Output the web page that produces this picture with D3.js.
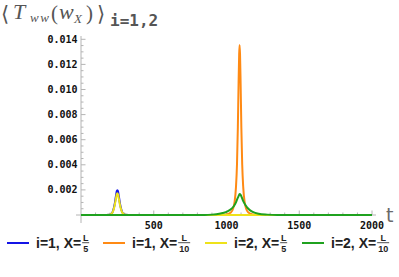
<!DOCTYPE html>
<html><head><meta charset="utf-8">
<script src="https://cdn.jsdelivr.net/npm/d3@7"></script>
<style>body{margin:0;background:#fff}svg{display:block}</style>
</head><body>
<svg id="chart" width="399" height="277"></svg>
<script>
// ---- data ----
const seriesNames = ["i=1, X=L/5", "i=1, X=L/10", "i=2, X=L/5", "i=2, X=L/10"];
const legendDenoms = ["5", "10", "5", "10"];
const seriesColors = ["#1414e6", "#ff8a14", "#eee21a", "#1fa21f"];

const blueT   = [0, 150, 195, 210, 222, 232, 240, 246, 250, 254, 260, 268, 278, 290, 305, 350, 2000];
const blueV   = [0, 0, 0.00003, 0.0001, 0.0004, 0.0009, 0.0015, 0.0019, 0.00197, 0.0019, 0.0015, 0.0009, 0.0004, 0.0001, 0.00003, 0, 0];

const orangeT = [0, 950, 1000, 1030, 1045, 1055, 1065, 1072, 1078, 1083, 1087, 1090, 1093, 1097, 1102, 1108, 1115, 1125, 1135, 1150, 1180, 1230, 2000];
const orangeV = [0, 0, 0.00005, 0.0002, 0.0005, 0.0010, 0.0022, 0.0040, 0.0070, 0.0105, 0.0128, 0.01355, 0.0128, 0.0105, 0.0070, 0.0040, 0.0022, 0.0010, 0.0005, 0.0002, 0.00005, 0, 0];

const yellowT = [0, 150, 195, 210, 222, 232, 240, 246, 250, 254, 260, 268, 278, 290, 305, 350, 2000];
const yellowV = [0, 0, 0.00003, 0.0001, 0.00035, 0.0008, 0.0013, 0.00165, 0.00173, 0.00165, 0.0013, 0.0008, 0.00035, 0.0001, 0.00003, 0, 0];

const greenT  = [0, 850, 900, 950, 1000, 1030, 1050, 1065, 1075, 1083, 1090, 1097, 1105, 1115, 1130, 1150, 1180, 1220, 1280, 1350, 2000];
const greenV  = [0, 0, 0.00003, 0.0001, 0.00025, 0.00045, 0.0007, 0.0010, 0.0013, 0.0015, 0.00167, 0.0016, 0.0014, 0.0011, 0.0008, 0.0005, 0.00025, 0.0001, 0.00003, 0, 0];

const xMajorTicks = [500, 1000, 1500, 2000];
const yMajorTicks = [0.002, 0.004, 0.006, 0.008, 0.010, 0.012, 0.014];
const yTickLabels = ["0.002", "0.004", "0.006", "0.008", "0.010", "0.012", "0.014"];

const seriesT = [blueT, orangeT, yellowT, greenT];
const seriesV = [blueV, orangeV, yellowV, greenV];

// ---- layout ----
const svg = d3.select("#chart");
const x = d3.scaleLinear().domain([0, 2000]).range([81, 372]);
const y = d3.scaleLinear().domain([0, 0.014]).range([215, 39.3]);
const axisColor = "#b4b4b4";

svg.append("line").attr("x1", 76).attr("x2", 376).attr("y1", y(0)).attr("y2", y(0))
  .attr("stroke", axisColor).attr("stroke-width", 1);
svg.append("line").attr("x1", x(0)).attr("x2", x(0)).attr("y1", 36).attr("y2", 223)
  .attr("stroke", axisColor).attr("stroke-width", 1);

const xMinor = d3.range(100, 2001, 100).filter(v => !xMajorTicks.includes(v));
svg.selectAll(".xmin").data(xMinor).join("line")
  .attr("x1", d => x(d)).attr("x2", d => x(d)).attr("y1", y(0)).attr("y2", y(0) - 2.5)
  .attr("stroke", axisColor);
svg.selectAll(".xmaj").data(xMajorTicks).join("line")
  .attr("x1", d => x(d)).attr("x2", d => x(d)).attr("y1", y(0)).attr("y2", y(0) - 4.5)
  .attr("stroke", axisColor);
svg.selectAll(".xlab").data(xMajorTicks).join("text")
  .attr("x", d => x(d)).attr("y", 229)
  .attr("text-anchor", "middle")
  .attr("font-family", "DejaVu Sans Mono").attr("font-weight", "bold").attr("font-size", 10)
  .attr("fill", "#111").text(d => d);

const yMinor = d3.range(1, 29).map(i => i * 0.0005).filter(v => Math.abs((v / 0.002) - Math.round(v / 0.002)) > 1e-6);
svg.selectAll(".ymin").data(yMinor).join("line")
  .attr("x1", x(0)).attr("x2", x(0) + 2.5).attr("y1", d => y(d)).attr("y2", d => y(d))
  .attr("stroke", axisColor);
svg.selectAll(".ymaj").data(yMajorTicks).join("line")
  .attr("x1", x(0)).attr("x2", x(0) + 4.5).attr("y1", d => y(d)).attr("y2", d => y(d))
  .attr("stroke", axisColor);
svg.selectAll(".ylab").data(yMajorTicks).join("text")
  .attr("x", 77.5).attr("y", d => y(d) + 3.5)
  .attr("text-anchor", "end")
  .attr("font-family", "DejaVu Sans Mono").attr("font-weight", "bold").attr("font-size", 10)
  .attr("fill", "#111").text((d, i) => yTickLabels[i]);

const line = d3.line().x(d => x(d[0])).y(d => y(d[1])).curve(d3.curveMonotoneX);
seriesT.forEach((ts, i) => {
  const pts = ts.map((t, j) => [t, seriesV[i][j]]);
  svg.append("path").datum(pts).attr("d", line)
    .attr("fill", "none").attr("stroke", seriesColors[i]).attr("stroke-width", 2)
    .attr("stroke-linejoin", "round");
});

svg.append("text").attr("x", 386).attr("y", 222)
  .attr("font-family", "DejaVu Sans").attr("font-size", 19).attr("fill", "#6a6a6a").text("t");

// title
const title = svg.append("g").attr("fill", "#555");
const tf = "Liberation Serif";
title.append("text").attr("x", 1).attr("y", 21).attr("font-family", "DejaVu Sans").attr("font-size", 21).text("\u27E8");
title.append("text").attr("x", 13).attr("y", 19).attr("font-family", tf).attr("font-style", "italic").attr("font-size", 22).text("T");
title.append("text").attr("x", 30).attr("y", 22).attr("font-family", tf).attr("font-style", "italic").attr("font-size", 13).attr("letter-spacing", 1.5).text("ww");
title.append("text").attr("x", 51).attr("y", 20).attr("font-family", tf).attr("font-size", 21).text("(");
title.append("text").attr("x", 59).attr("y", 19).attr("font-family", tf).attr("font-style", "italic").attr("font-size", 22).text("w");
title.append("text").attr("x", 74).attr("y", 23).attr("font-family", tf).attr("font-style", "italic").attr("font-size", 13).text("X");
title.append("text").attr("x", 86).attr("y", 20).attr("font-family", tf).attr("font-size", 21).text(")");
title.append("text").attr("x", 97).attr("y", 21).attr("font-family", "DejaVu Sans").attr("font-size", 21).text("\u27E9");
title.append("text").attr("x", 110).attr("y", 26).attr("font-family", "DejaVu Sans Mono").attr("font-weight", "bold").attr("font-size", 16).text("i=1,2");

// legend
const legendX = [7, 103, 205, 302];
const legendY = 243;
seriesNames.forEach((name, i) => {
  const g = svg.append("g").attr("transform", `translate(${legendX[i]},${legendY})`);
  g.append("line").attr("x1", 0).attr("x2", 22).attr("y1", 0).attr("y2", 0)
    .attr("stroke", seriesColors[i]).attr("stroke-width", 2);
  const txt = g.append("text").attr("x", 29).attr("y", 5)
    .attr("font-family", "Liberation Sans").attr("font-weight", "bold").attr("font-size", 14)
    .attr("fill", "#222").text("i=" + (i < 2 ? 1 : 2) + ", X=");
  const w = txt.node().getComputedTextLength();
  const fx = 29 + w + 1;
  const den = legendDenoms[i];
  const fw = den.length === 1 ? 7 : 12;
  const ff = g.append("g").attr("font-family", "Liberation Sans").attr("font-weight", "bold")
    .attr("font-size", 9).attr("fill", "#222").attr("text-anchor", "middle");
  ff.append("text").attr("x", fx + fw / 2).attr("y", -2).text("L");
  g.append("line").attr("x1", fx).attr("x2", fx + fw).attr("y1", -0.3).attr("y2", -0.3)
    .attr("stroke", "#222").attr("stroke-width", 0.8);
  ff.append("text").attr("x", fx + fw / 2).attr("y", 8.8).text(den);
});
</script>
</body></html>
